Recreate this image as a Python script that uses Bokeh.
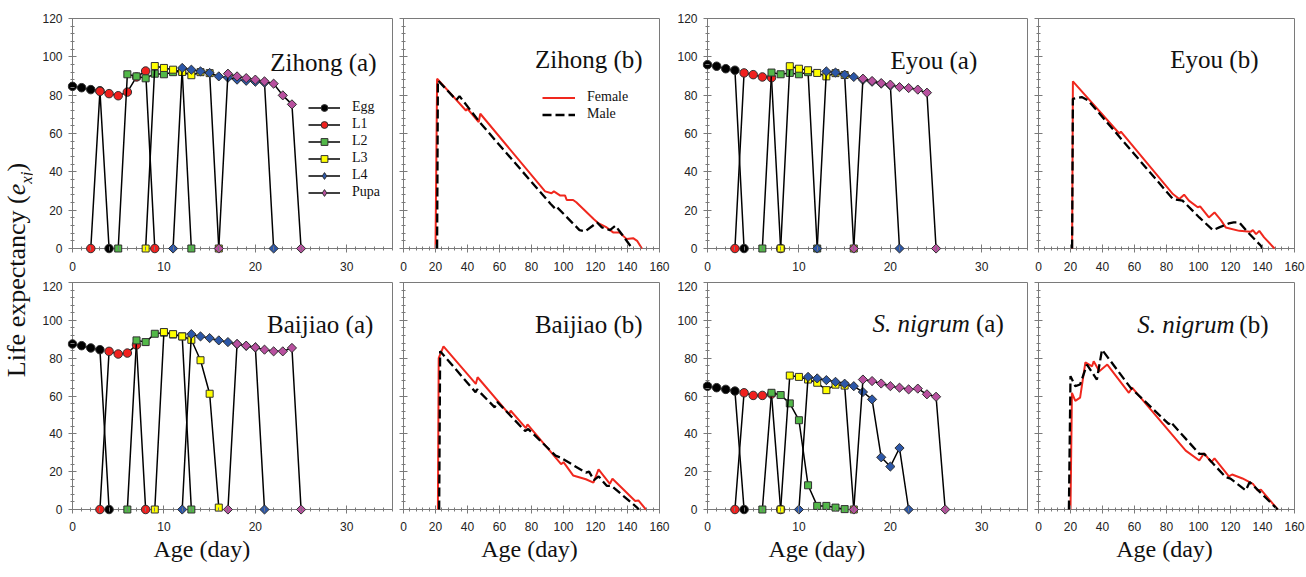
import numpy as np
from bokeh.plotting import figure
from bokeh.models import (SingleIntervalTicker, BoxAnnotation, Label, Legend, LegendItem,
                          Title, Div, Range1d, CustomJSTickFormatter, LinearAxis)
from bokeh.layouts import row, column
from bokeh.embed import file_html
from bokeh.resources import INLINE

# ----------------------------- data -----------------------------
STAGES = ["Egg", "L1", "L2", "L3", "L4", "Pupa"]

# Zihong (a): age-stage life expectancy
ZIHONG_EGG_DAY = [0, 1, 2, 3, 4]
ZIHONG_EGG_E = [84.6, 83.9, 82.9, 82.3, 0]
ZIHONG_L1_DAY = [2, 3, 4, 5, 6, 7, 8, 9]
ZIHONG_L1_E = [0, 82.0, 80.8, 79.7, 81.6, 89.5, 92.6, 0]
ZIHONG_L2_DAY = [5, 6, 7, 8, 9, 10, 11, 12, 13]
ZIHONG_L2_E = [0, 90.9, 89.8, 88.8, 91.2, 90.9, 92.0, 92.5, 0]
ZIHONG_L3_DAY = [8, 9, 10, 11, 12, 13, 14, 15, 16]
ZIHONG_L3_E = [0, 95.2, 94.2, 93.3, 92.1, 90.4, 92.0, 91.5, 0]
ZIHONG_L4_DAY = [11, 12, 13, 14, 15, 16, 17, 18, 19, 20, 21, 22]
ZIHONG_L4_E = [0, 94.2, 93.3, 92.4, 91.6, 89.8, 89.1, 88.1, 87.5, 87.0, 86.5, 0]
ZIHONG_PUPA_DAY = [16, 17, 18, 19, 20, 21, 22, 23, 24, 25]
ZIHONG_PUPA_E = [0, 91.2, 89.8, 88.9, 88.1, 87.2, 86.0, 79.9, 75.2, 0]

# Baijiao (a)
BAIJIAO_EGG_DAY = [0, 1, 2, 3, 4]
BAIJIAO_EGG_E = [87.5, 86.6, 85.4, 84.5, 0]
BAIJIAO_L1_DAY = [3, 4, 5, 6, 7, 8]
BAIJIAO_L1_E = [0, 83.6, 82.2, 82.7, 87.0, 0]
BAIJIAO_L2_DAY = [6, 7, 8, 9, 10, 11, 12, 13]
BAIJIAO_L2_E = [0, 89.4, 88.5, 92.9, 93.5, 92.5, 91.5, 0]
BAIJIAO_L3_DAY = [9, 10, 11, 12, 13, 14, 15, 16]
BAIJIAO_L3_E = [0, 93.8, 92.7, 91.5, 89.7, 78.9, 61.2, 1.0]
BAIJIAO_L4_DAY = [12, 13, 14, 15, 16, 17, 18, 19, 20, 21]
BAIJIAO_L4_E = [0, 92.7, 91.5, 90.6, 89.4, 88.5, 87.4, 86.5, 85.7, 0]
BAIJIAO_PUPA_DAY = [17, 18, 19, 20, 21, 22, 23, 24, 25]
BAIJIAO_PUPA_E = [0, 87.5, 86.6, 85.7, 84.5, 83.6, 83.6, 85.4, 0]

# Eyou (a)
EYOU_EGG_DAY = [0, 1, 2, 3, 4]
EYOU_EGG_E = [95.9, 95.1, 93.8, 93.0, 0]
EYOU_L1_DAY = [3, 4, 5, 6, 7, 8]
EYOU_L1_E = [0, 91.6, 90.7, 89.5, 89.1, 0]
EYOU_L2_DAY = [6, 7, 8, 9, 10, 11, 12]
EYOU_L2_E = [0, 91.8, 90.9, 91.6, 90.9, 92.0, 0]
EYOU_L3_DAY = [8, 9, 10, 11, 12, 13, 14, 15, 16]
EYOU_L3_E = [0, 95.1, 93.8, 93.0, 91.6, 89.8, 91.5, 90.5, 0]
EYOU_L4_DAY = [12, 13, 14, 15, 16, 17, 18, 19, 20, 21]
EYOU_L4_E = [0, 92.4, 91.8, 90.7, 89.5, 88.0, 87.0, 86.0, 85.0, 0]
EYOU_PUPA_DAY = [16, 17, 18, 19, 20, 21, 22, 23, 24, 25]
EYOU_PUPA_E = [0, 88.6, 87.4, 86.3, 85.5, 84.2, 83.7, 82.9, 81.3, 0]

# S. nigrum (a)
SNIG_EGG_DAY = [0, 1, 2, 3, 4]
SNIG_EGG_E = [65.2, 64.4, 63.5, 62.6, 0]
SNIG_L1_DAY = [3, 4, 5, 6, 7, 8]
SNIG_L1_E = [0, 61.7, 60.3, 60.3, 61.0, 0]
SNIG_L2_DAY = [6, 7, 8, 9, 10, 11, 12, 13, 14, 15]
SNIG_L2_E = [0, 61.7, 60.5, 56.1, 47.2, 12.8, 1.9, 1.9, 1.0, 0.2]
SNIG_L3_DAY = [8, 9, 10, 11, 12, 13, 14, 15, 16]
SNIG_L3_E = [0, 70.8, 70.1, 68.7, 67.0, 63.1, 66.0, 65.5, 0]
SNIG_L4_DAY = [10, 11, 12, 13, 14, 15, 16, 17, 18, 19, 20, 21, 22]
SNIG_L4_E = [0, 70.1, 69.3, 68.4, 67.5, 66.5, 65.2, 62.1, 58.2, 27.6, 22.7, 32.5, 0]
SNIG_PUPA_DAY = [16, 17, 18, 19, 20, 21, 22, 23, 24, 25, 26]
SNIG_PUPA_E = [0, 68.7, 67.9, 66.6, 65.2, 64.4, 63.5, 63.9, 60.9, 59.6, 0]

# (b): female / male life expectancy by age
ZIHONG_FEMALE_AGE = [20, 21, 39, 40, 47, 48, 88.5, 92.5, 94, 98, 101, 102, 106, 108, 119, 122, 127, 131, 135, 139.5, 143.5, 146, 149]
ZIHONG_FEMALE_E = [0, 88.6, 72.0, 72.9, 66.0, 70.3, 29.8, 28.8, 29.8, 27.6, 27.6, 25.3, 25.3, 24.1, 15.3, 13.1, 11.0, 8.4, 8.4, 4.9, 5.4, 4.0, 0]
ZIHONG_MALE_AGE = [21, 21.5, 33, 35, 48, 92, 95, 96, 110, 113.5, 121, 124, 129, 132.5, 143]
ZIHONG_MALE_E = [0, 87.7, 77.5, 79.5, 65.5, 23.2, 20.6, 21.5, 9.6, 8.9, 13.6, 11.0, 9.6, 11.9, 0]

BAIJIAO_FEMALE_AGE = [21.5, 22, 25, 45.2, 46.3, 66, 67, 76.5, 77.5, 98.5, 100, 106, 114, 118.7, 121.9, 129, 130.6, 144.8, 146.8, 151.5]
BAIJIAO_FEMALE_E = [0, 80, 86.2, 66.4, 69.9, 50.4, 52.2, 43.0, 45.0, 24.0, 25.0, 18.0, 16.0, 14.2, 21.2, 13.6, 16.3, 4.5, 4.8, 0]
BAIJIAO_MALE_AGE = [22.3, 22.9, 45, 46, 57, 58.5, 76, 78, 92, 95, 98, 114, 116, 119, 122, 127, 130, 146, 147]
BAIJIAO_MALE_E = [0, 83.7, 62.0, 63.5, 54.0, 57.0, 41.5, 42.5, 31.0, 28.5, 27.5, 19.5, 20.0, 15.5, 17.5, 12.5, 12.5, 1.0, 0]

EYOU_FEMALE_AGE = [21, 21.5, 50.5, 51.5, 84, 88, 91, 94, 99.5, 101, 106.5, 110, 114, 117, 125.5, 132.5, 134, 136, 138, 141, 147.5]
EYOU_FEMALE_E = [0, 87.2, 60.0, 61.0, 28.4, 25.8, 28.1, 25.0, 21.5, 22.0, 16.2, 18.8, 14.8, 11.0, 9.2, 8.7, 9.6, 7.5, 9.2, 5.8, 0]
EYOU_MALE_AGE = [21, 21.5, 27, 31, 84, 90, 100.5, 109, 113, 119, 122, 125.5, 130, 139, 140]
EYOU_MALE_E = [0, 78.1, 79.0, 77.3, 25.8, 25.0, 16.2, 9.6, 11.0, 13.1, 13.6, 13.6, 9.2, 1.4, 0]

SNIG_FEMALE_AGE = [20, 20.9, 23, 26, 29.3, 33.5, 34.5, 38, 43, 56.5, 58.5, 92, 100.5, 103.5, 108, 110, 119, 121, 127.5, 134, 137, 139, 149.5]
SNIG_FEMALE_E = [0, 61.7, 57.4, 59.1, 77.8, 75.7, 78.4, 73.1, 76.6, 61.7, 64.4, 31.1, 25.9, 29.7, 25.0, 27.0, 17.5, 18.5, 16.4, 13.6, 10.1, 10.5, 0]
SNIG_MALE_AGE = [19, 20, 23, 26, 30.3, 36.5, 39.7, 57.5, 81.5, 82.5, 100.5, 103.5, 117, 120, 129.5, 132, 149.5]
SNIG_MALE_E = [0, 70.5, 65.2, 66.1, 76.6, 68.7, 84.5, 64.4, 45.1, 46.4, 29.4, 29.4, 17.1, 16.3, 10.1, 14.5, 0]

# ----------------------------- style -----------------------------
GRAY = "#7a7a7a"
TXT = "#111111"
STAGE_STYLE = {
    "Egg": dict(marker="circle", fill="#000000", size=8.5, angle=0),
    "L1": dict(marker="circle", fill="#f0201e", size=8.5, angle=0),
    "L2": dict(marker="square", fill="#52b848", size=7, angle=0),
    "L3": dict(marker="square", fill="#ffff00", size=7, angle=0),
    "L4": dict(marker="square", fill="#2c57a8", size=6.5, angle=np.pi / 4),
    "Pupa": dict(marker="square", fill="#b8509f", size=6.5, angle=np.pi / 4),
}

SX_A = 320 / 35.0
SX_B = 256 / 160.0
SY_TOP = 230 / 120.0
SY_BOT = 227 / 120.0
EMPTY = "return ''"


def tick_axis(interval, minor):
    """Axis pinned at 0 that only draws tick marks (crossing the line)."""
    return LinearAxis(ticker=SingleIntervalTicker(interval=interval, num_minor_ticks=minor),
                      fixed_location=0, formatter=CustomJSTickFormatter(code=EMPTY),
                      major_label_text_font_size="1px", major_label_standoff=0,
                      axis_line_color=None, major_tick_line_color=GRAY,
                      minor_tick_line_color=GRAY, major_tick_in=4, major_tick_out=4,
                      minor_tick_in=2, minor_tick_out=2)


def label_axis(ax, interval, minor, standoff):
    ax.ticker = SingleIntervalTicker(interval=interval, num_minor_ticks=minor)
    ax.axis_line_color = None
    ax.major_tick_line_color = None
    ax.minor_tick_line_color = None
    ax.major_tick_in = 0
    ax.major_tick_out = 0
    ax.minor_tick_in = 0
    ax.minor_tick_out = 0
    ax.major_label_standoff = standoff
    ax.major_label_text_font = "Liberation Sans"
    ax.major_label_text_font_size = "12px"
    ax.major_label_text_color = "#222222"


def make_fig(kind, rowpos, show_ylabels, mbl, mbr):
    if kind == "a":
        xr = Range1d(-5 / SX_A, 35 + 1 / SX_A)
        fw = 326
        xint, xminor, xend = 10, 10, 35
    else:
        xr = Range1d(-5 / SX_B, 160 + 1 / SX_B)
        fw = 262
        xint, xminor, xend = 20, 5, 160
    if rowpos == "top":
        sy = SY_TOP
        fh, mbt, mbb = 237, 17, 27
        xstand = 7
    else:
        sy = SY_BOT
        fh, mbt, mbb = 234, 0, 54
        xstand = 6
    yr = Range1d(-6 / sy, 120 + 1 / sy)
    p = figure(width=mbl + fw + mbr, height=mbt + fh + mbb, x_range=xr, y_range=yr,
               output_backend="svg", toolbar_location=None,
               min_border_left=mbl, min_border_right=mbr,
               min_border_top=mbt, min_border_bottom=mbb)
    p.outline_line_color = None
    p.xgrid.visible = False
    p.ygrid.visible = False
    p.background_fill_color = "white"
    p.border_fill_color = "white"

    # x: labels on the frame edge, ticks on a separate axis pinned at y=0
    label_axis(p.xaxis[0], xint, xminor, xstand)
    p.add_layout(tick_axis(xint, xminor), "below")

    ya = p.yaxis[0]
    if show_ylabels:
        label_axis(ya, 20, 5, 5)
        p.add_layout(tick_axis(20, 5), "left")
    else:
        ta = tick_axis(20, 5)
        ya.ticker = ta.ticker
        ya.fixed_location = 0
        ya.formatter = CustomJSTickFormatter(code=EMPTY)
        ya.major_label_text_font_size = "1px"
        ya.major_label_standoff = 0
        ya.axis_line_color = None
        ya.major_tick_line_color = GRAY
        ya.minor_tick_line_color = GRAY
        ya.major_tick_in = 4
        ya.major_tick_out = 4
        ya.minor_tick_in = 2
        ya.minor_tick_out = 2

    p.add_layout(BoxAnnotation(left=0, right=xend, bottom=0, top=120, fill_color=None,
                               line_color=GRAY, line_alpha=1, line_width=1, level="underlay"))
    return p


def add_title(p, x, y, name, tag, italic=False):
    font = dict(text_font="Liberation Serif", text_font_size="25px", text_color=TXT,
                text_baseline="alphabetic", text_align="right")
    if italic:
        p.add_layout(Label(x=x, y=y, text="(" + tag + ")", **font))
        p.add_layout(Label(x=x, y=y, x_offset=-34, text=name, text_font_style="italic", **font))
    else:
        p.add_layout(Label(x=x, y=y, text=name + " (" + tag + ")", **font))


def draw_stages(p, series, legend_loc=None):
    items = []
    for stage, (days, vals) in zip(STAGES, series):
        st = STAGE_STYLE[stage]
        lr = p.line(days, vals, line_color="black", line_width=1.5)
        sr = p.scatter(days, vals, marker=st["marker"], size=st["size"], angle=st["angle"],
                       fill_color=st["fill"], line_color="#303030", line_width=1)
        if st["angle"] and legend_loc is not None:
            # legend-only swatch (rotated markers are drawn unrotated in legends);
            # its single point is NaN so nothing is plotted
            sr = p.scatter([np.nan], [np.nan], marker="diamond", size=11.5,
                           fill_color=st["fill"], line_color="#303030", line_width=1)
        items.append(LegendItem(label=stage, renderers=[lr, sr]))
    if legend_loc is not None:
        leg = Legend(items=items, location=legend_loc, label_text_font="Liberation Serif",
                     label_text_font_size="14px", label_text_color=TXT, label_height=17,
                     glyph_height=17, glyph_width=32, label_standoff=12, spacing=0,
                     padding=0, margin=0, border_line_color=None, background_fill_alpha=0)
        p.add_layout(leg)


def draw_sexes(p, fa, fe, ma, me, legend_loc=None):
    fr = p.line(fa, fe, line_color="#f0281e", line_width=2)
    mr = p.line(ma, me, line_color="black", line_width=2.3, line_dash="9 4")
    if legend_loc is not None:
        leg = Legend(items=[LegendItem(label="Female", renderers=[fr]),
                            LegendItem(label="Male", renderers=[mr])],
                     location=legend_loc, label_text_font="Liberation Serif",
                     label_text_font_size="14px", label_text_color=TXT, label_height=17,
                     glyph_height=17, glyph_width=33, label_standoff=12, spacing=0,
                     padding=0, margin=0, border_line_color=None, background_fill_alpha=0)
        p.add_layout(leg)


def age_title(p, align, offset):
    p.add_layout(Title(text="Age (day)", align=align, offset=offset, standoff=0,
                       text_font="Liberation Serif", text_font_size="24px",
                       text_font_style="normal", text_color=TXT), "below")


# ----------------------------- top row -----------------------------
a1 = make_fig("a", "top", True, 35, 0)
draw_stages(a1, [(ZIHONG_EGG_DAY, ZIHONG_EGG_E), (ZIHONG_L1_DAY, ZIHONG_L1_E),
                 (ZIHONG_L2_DAY, ZIHONG_L2_E), (ZIHONG_L3_DAY, ZIHONG_L3_E),
                 (ZIHONG_L4_DAY, ZIHONG_L4_E), (ZIHONG_PUPA_DAY, ZIHONG_PUPA_E)],
            legend_loc=(241, 53.5))
add_title(a1, 33.25, 97.0, "Zihong", "a")

b1 = make_fig("b", "top", False, 5, 11)
draw_sexes(b1, ZIHONG_FEMALE_AGE, ZIHONG_FEMALE_E, ZIHONG_MALE_AGE, ZIHONG_MALE_E,
           legend_loc=(144, 131.5))
add_title(b1, 149.4, 98.6, "Zihong", "b")

c1 = make_fig("a", "top", True, 31, 0)
draw_stages(c1, [(EYOU_EGG_DAY, EYOU_EGG_E), (EYOU_L1_DAY, EYOU_L1_E),
                 (EYOU_L2_DAY, EYOU_L2_E), (EYOU_L3_DAY, EYOU_L3_E),
                 (EYOU_L4_DAY, EYOU_L4_E), (EYOU_PUPA_DAY, EYOU_PUPA_E)])
add_title(c1, 29.5, 98.1, "Eyou", "a")

d1 = make_fig("b", "top", False, 5, 11)
draw_sexes(d1, EYOU_FEMALE_AGE, EYOU_FEMALE_E, EYOU_MALE_AGE, EYOU_MALE_E)
add_title(d1, 137.5, 98.4, "Eyou", "b")

# ----------------------------- bottom row -----------------------------
a2 = make_fig("a", "bot", True, 35, 0)
draw_stages(a2, [(BAIJIAO_EGG_DAY, BAIJIAO_EGG_E), (BAIJIAO_L1_DAY, BAIJIAO_L1_E),
                 (BAIJIAO_L2_DAY, BAIJIAO_L2_E), (BAIJIAO_L3_DAY, BAIJIAO_L3_E),
                 (BAIJIAO_L4_DAY, BAIJIAO_L4_E), (BAIJIAO_PUPA_DAY, BAIJIAO_PUPA_E)])
add_title(a2, 32.9, 97.8, "Baijiao", "a")
age_title(a2, "left", 86)

b2 = make_fig("b", "bot", False, 5, 11)
draw_sexes(b2, BAIJIAO_FEMALE_AGE, BAIJIAO_FEMALE_E, BAIJIAO_MALE_AGE, BAIJIAO_MALE_E)
add_title(b2, 149.4, 97.8, "Baijiao", "b")
age_title(b2, "center", 0)

c2 = make_fig("a", "bot", True, 31, 0)
draw_stages(c2, [(SNIG_EGG_DAY, SNIG_EGG_E), (SNIG_L1_DAY, SNIG_L1_E),
                 (SNIG_L2_DAY, SNIG_L2_E), (SNIG_L3_DAY, SNIG_L3_E),
                 (SNIG_L4_DAY, SNIG_L4_E), (SNIG_PUPA_DAY, SNIG_PUPA_E)])
add_title(c2, 32.4, 98.3, "S. nigrum", "a", italic=True)
age_title(c2, "left", 66)

d2 = make_fig("b", "bot", False, 5, 11)
draw_sexes(d2, SNIG_FEMALE_AGE, SNIG_FEMALE_E, SNIG_MALE_AGE, SNIG_MALE_E)
add_title(d2, 143.75, 97.8, "S. nigrum", "b", italic=True)
age_title(d2, "center", 0)

# ----------------------------- y label -----------------------------
ylab = Div(text=('<div style="position:relative;width:32px;height:569px;">'
                 '<div style="position:absolute;left:20px;top:270px;'
                 'transform:translate(-50%,-50%) rotate(-90deg);white-space:nowrap;'
                 "font-family:'Liberation Serif';font-size:26px;color:#111;line-height:1;\">"
                 'Life expectancy (<i>e<sub style="font-size:65%;">xj</sub></i>)</div></div>'),
           width=32, height=569, margin=(0, 0, 0, 0))

layout = row(ylab, column(row(a1, b1, c1, d1), row(a2, b2, c2, d2)))

with open("out.html", "w") as f:
    f.write(file_html(layout, INLINE))
